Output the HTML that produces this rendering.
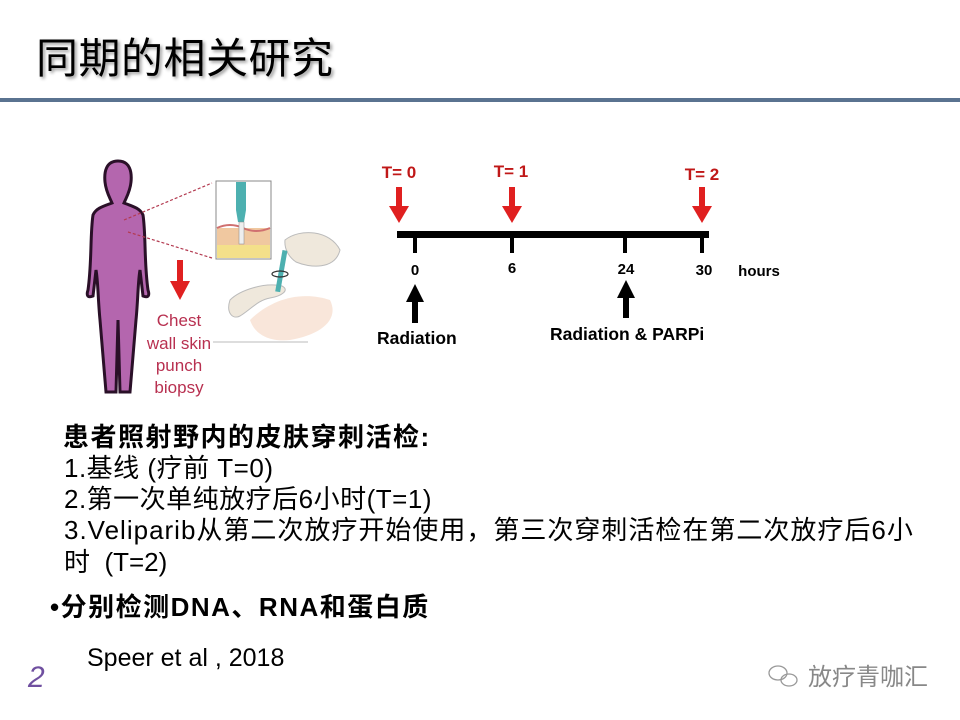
<!DOCTYPE html>
<html><head><meta charset="utf-8"><style>
html,body{margin:0;padding:0;background:#fff;}
body{width:960px;height:720px;position:relative;overflow:hidden;font-family:"Liberation Sans","Noto Sans CJK SC",sans-serif;}
.t{position:absolute;white-space:nowrap;color:#000;line-height:1;}
</style></head><body>
<div class="t" style="left:36px;top:38px;font-size:42px;letter-spacing:0.5px;text-shadow:2px 2px 3px #999;">同期的相关研究</div>
<div style="position:absolute;left:0;top:98px;width:960px;height:4px;background:#5a7390;"></div>

<svg width="960" height="720" style="position:absolute;left:0;top:0" xmlns="http://www.w3.org/2000/svg">
<g fill="#b466ae" stroke="#2a1028" stroke-width="3">
<path d="M118 161 C106 161 104 172 105 182 C106 192 110 198 112 203 C104 206 96 208 93 215 C90 235 92 262 88 290 C86 296 88 298 93 296 L96 270 C98 280 98 300 100 320 C102 345 104 370 106 392 L116 392 L118 320 L120 392 L130 392 C132 370 134 345 136 320 C138 300 138 280 140 270 L143 296 C148 298 150 296 148 290 C144 262 146 235 143 215 C140 208 132 206 124 203 C126 198 130 192 131 182 C132 172 130 161 118 161 Z"/>
</g>
<line x1="124" y1="220" x2="212" y2="183" stroke="#b33a50" stroke-width="1.2" stroke-dasharray="3,2"/>
<line x1="128" y1="232" x2="212" y2="258" stroke="#b33a50" stroke-width="1.2" stroke-dasharray="3,2"/>
<rect x="216" y="181" width="55" height="78" fill="#fff" stroke="#888" stroke-width="1"/>
<rect x="217" y="228" width="53" height="30" fill="#f0c8a0"/>
<rect x="217" y="245" width="53" height="13" fill="#f4e08a"/>
<path d="M217 228 Q230 222 243 228 Q256 234 270 228" fill="none" stroke="#d07070" stroke-width="2"/>
<rect x="236" y="182" width="10" height="28" fill="#4db0b0"/>
<path d="M236 210 L246 210 L244 222 L238 222 Z" fill="#4db0b0"/>
<rect x="239" y="222" width="5" height="22" fill="#eee" stroke="#888" stroke-width="0.5"/>
<path d="M230 300 C240 290 265 282 282 286 C290 290 282 296 270 298 C258 300 250 310 240 316 C232 320 226 312 230 300 Z" fill="#efe8dc" stroke="#bbb"/>
<path d="M250 320 C270 300 300 290 330 300 C340 320 320 335 290 340 C270 342 255 335 250 320 Z" fill="#f6dccb" opacity="0.7"/>
<path d="M285 240 C300 228 330 230 340 250 C335 270 310 268 296 262 C290 258 284 250 285 240 Z" fill="#efe8dc" stroke="#bbb"/>
<rect x="279" y="250" width="5" height="42" fill="#4db0b0" transform="rotate(10 281 270)"/>
<ellipse cx="280" cy="274" rx="8" ry="3" fill="none" stroke="#333" stroke-width="1.2"/>
<line x1="213" y1="342" x2="308" y2="342" stroke="#bbb" stroke-width="1"/>
<rect x="177" y="260" width="6" height="22" fill="#e02020"/><polygon points="170,281 190,281 180,300" fill="#e02020"/>
<g font-family="Liberation Sans, sans-serif" font-size="17" fill="#b83050" text-anchor="middle">
<text x="179" y="326">Chest</text><text x="179" y="349">wall skin</text><text x="179" y="371">punch</text><text x="179" y="393">biopsy</text>
</g>
<rect x="397" y="231" width="312" height="7" fill="#000"/>
<g fill="#000"><rect x="413" y="237" width="4" height="16"/><rect x="510" y="237" width="4" height="16"/><rect x="623" y="237" width="4" height="16"/><rect x="700" y="237" width="4" height="16"/></g>
<g fill="#e02020">
<rect x="396" y="187" width="6" height="22"/><polygon points="389,206 409,206 399,223"/>
<rect x="509" y="187" width="6" height="22"/><polygon points="502,206 522,206 512,223"/>
<rect x="699" y="187" width="6" height="22"/><polygon points="692,206 712,206 702,223"/>
</g>
<g font-family="Liberation Sans, sans-serif" font-weight="bold" font-size="17" fill="#c01818" text-anchor="middle">
<text x="399" y="178">T= 0</text><text x="511" y="177">T= 1</text><text x="702" y="180">T= 2</text>
</g>
<g font-family="Liberation Sans, sans-serif" font-weight="bold" font-size="15" fill="#000" text-anchor="middle">
<text x="415" y="275">0</text><text x="512" y="273">6</text><text x="626" y="274">24</text><text x="704" y="275">30</text>
<text x="759" y="276">hours</text>
</g>
<g fill="#000">
<polygon points="406,302 424,302 415,284"/><rect x="412" y="300" width="6" height="23"/>
<polygon points="617,298 635,298 626,280"/><rect x="623" y="296" width="6" height="22"/>
</g>
<g font-family="Liberation Sans, sans-serif" font-weight="bold" font-size="17.5" fill="#000">
<text x="377" y="344">Radiation</text><text x="550" y="340">Radiation &amp; PARPi</text>
</g>
<g fill="none" stroke="#999" stroke-width="1.3">
<ellipse cx="778" cy="673" rx="9" ry="7"/><ellipse cx="789" cy="680" rx="8" ry="6"/>
</g>
</svg>

<div class="t" style="left:63px;top:424px;font-size:26px;font-weight:bold;letter-spacing:1.5px;">患者照射野内的皮肤穿刺活检:</div>
<div class="t" style="left:64px;top:455px;font-size:26px;letter-spacing:0.5px;">1.基线 (疗前 T=0)</div>
<div class="t" style="left:64px;top:486px;font-size:26px;letter-spacing:0.5px;">2.第一次单纯放疗后6小时(T=1)</div>
<div class="t" style="left:64px;top:517px;font-size:26px;letter-spacing:1px;">3.Veliparib从第二次放疗开始使用，第三次穿刺活检在第二次放疗后6小</div>
<div class="t" style="left:64px;top:549px;font-size:26px;">时&nbsp; (T=2)</div>
<div class="t" style="left:50px;top:594px;font-size:26px;font-weight:bold;letter-spacing:1.5px;">•分别检测DNA、RNA和蛋白质</div>
<div class="t" style="left:87px;top:646px;font-size:25px;">Speer et al , 2018</div>
<div class="t" style="left:28px;top:663px;font-size:30px;font-style:italic;color:#7050a0;">2</div>
<div class="t" style="left:808px;top:666px;font-size:24px;color:#888;">放疗青咖汇</div>
</body></html>
